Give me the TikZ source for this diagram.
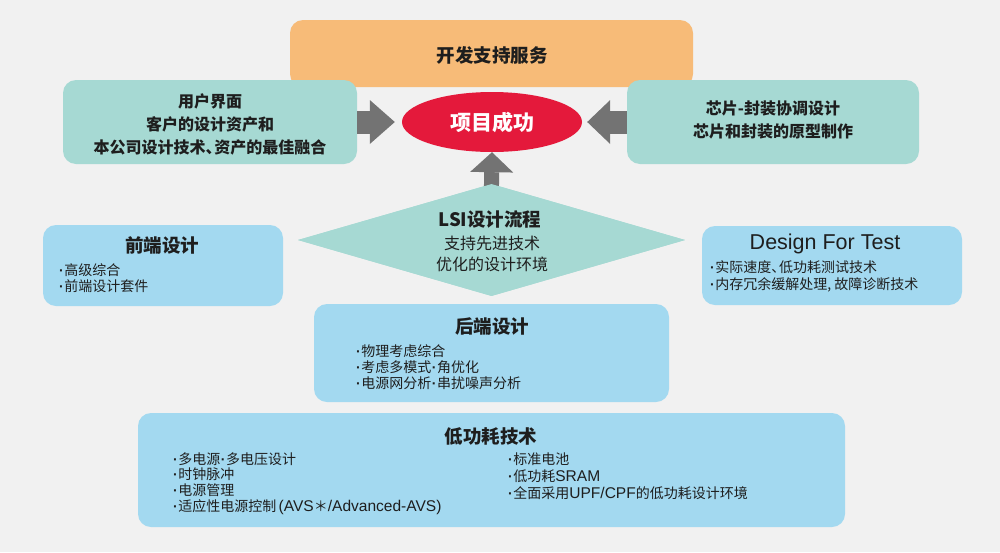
\documentclass[tikz,border=0pt]{standalone}
\usepackage{fontspec}
\setmainfont{Noto Sans CJK SC}
\newfontfamily\latinfont{Liberation Sans}
\newfontfamily\latitem{Liberation Sans}[Scale=1.11]
\usetikzlibrary{shapes.geometric,arrows.meta}
\definecolor{bgc}{HTML}{F1F1F1}
\definecolor{orangec}{HTML}{F7BB78}
\definecolor{tealc}{HTML}{A6D9D3}
\definecolor{bluec}{HTML}{A3D9F0}
\definecolor{redc}{HTML}{E4193B}
\definecolor{arrowc}{HTML}{737373}
\definecolor{textc}{HTML}{1E1E1E}
\newcommand\mybul{{\latinfont\bfseries ·}\kern0.5pt}
\newcommand\mydot{\kern0.5pt{\latinfont\bfseries ·}\kern0.5pt}
\newcommand\mydun{、\kern-0.45em}
\newcommand\lat[1]{{\latitem #1}}
\tikzset{
  box/.style={rectangle, rounded corners=13pt, inner sep=0pt, draw=none},
  orangebox/.style={box, fill=orangec},
  tealbox/.style={box, fill=tealc},
  bluebox/.style={box, fill=bluec},
  txt/.style={inner sep=0pt, text=textc},
  title/.style={txt, font=\fontsize{18.5}{22}\selectfont\bfseries},
  items/.style={txt, align=left, anchor=west},
  bigarrow/.style={draw=arrowc, fill=arrowc},
}
\begin{document}
\begin{tikzpicture}[x=1pt,y=-1pt]
\fill[bgc] (0,0) rectangle (1000,552);
\useasboundingbox (0,0) rectangle (1000,552);

% boxes
\node[orangebox, minimum width=403pt, minimum height=67pt] (svc) at (491.5,53.5) {};
\node[tealbox, minimum width=294pt, minimum height=84pt] (lb) at (210,122) {};
\node[tealbox, minimum width=292pt, minimum height=84pt] (rb) at (773,122) {};
\node[ellipse, fill=redc, inner sep=0pt, minimum width=180pt, minimum height=60pt] (ell) at (492,122) {};
\node[diamond, fill=tealc, inner sep=0pt, minimum width=387pt, minimum height=112pt] (dia) at (491.5,240) {};

% arrows
\draw[bigarrow, line width=23pt, -{Triangle[length=25pt,width=44pt,line width=0pt]}, shorten >=7pt] (lb.east) -- (ell.west);
\draw[bigarrow, line width=23pt, -{Triangle[length=23pt,width=44pt,line width=0pt]}, shorten >=5pt] (rb.west) -- (ell.east);
\draw[bigarrow, line width=15pt, -{Triangle[length=20pt,width=43pt,line width=0pt]}, shorten <=-6pt] (dia.north) -- (ell.south);
% redraw diamond top over shaft
\node[diamond, fill=tealc, inner sep=0pt, minimum width=387pt, minimum height=112pt] (dia2) at (dia.center) {};

\node[bluebox, minimum width=240pt, minimum height=81pt] (fe) at (163,265.5) {};
\node[bluebox, minimum width=260pt, minimum height=79pt] (dft) at (832,265.5) {};
\node[bluebox, minimum width=355pt, minimum height=98pt] (be) at (491.5,353) {};
\node[bluebox, minimum width=707pt, minimum height=114pt] (lp) at (491.5,470) {};

% texts
\node[title] (svct) at (492,55) {开发支持服务};
\node[txt, align=center, font=\fontsize{16}{23}\selectfont\bfseries] (lbt) at (210,124) {用户界面\\客户的设计资产和\\本公司设计技术\mydun 资产的最佳融合};
\node[txt, align=center, font=\fontsize{16}{23}\selectfont\bfseries] (rbt) at (773,119.5) {芯片-封装协调设计\\芯片和封装的原型制作};
\node[inner sep=0pt, text=white, font=\fontsize{21}{24}\selectfont\bfseries] (ellt) at (492,122) {项目成功};

\node[title] (diat) at (490,219) {LSI设计流程};
\node[txt, align=center, font=\fontsize{16}{21}\selectfont] (dias) at (492,253.5) {支持先进技术\\优化的设计环境};

\node[title] (fet) at (162,245) {前端设计};
\node[items, font=\fontsize{14}{16}\selectfont] (fei) at (59,278) {\mybul 高级综合\\\mybul 前端设计套件};

\node[txt, font=\latinfont\fontsize{21.5}{24}\selectfont] (dftt) at (825,244) {Design For Test};
\node[items, font=\fontsize{14}{17}\selectfont] (dfti) at (710,276.5) {\mybul 实际速度\mydun 低功耗测试技术\\\mybul 内存冗余缓解处理, 故障诊断技术};

\node[title] (bet) at (492,326) {后端设计};
\node[items, font=\fontsize{14}{16}\selectfont] (bei) at (356,367) {\mybul 物理考虑综合\\\mybul 考虑多模式\mydot 角优化\\\mybul 电源网分析\mydot 串扰噪声分析};

\node[title] (lpt) at (491,436) {低功耗技术};
\node[items, font=\fontsize{14}{15.7}\selectfont] (lpl) at (173,483.5) {\mybul 多电源\mydot 多电压设计\\\mybul 时钟脉冲\\\mybul 电源管理\\\mybul 适应性电源控制\,\lat{(AVS}＊\lat{/Advanced-AVS)}};
\node[items, font=\fontsize{14}{17}\selectfont] (lpr) at (508,476) {\mybul 标准电池\\\mybul 低功耗\lat{SRAM}\\\mybul 全面采用\lat{UPF/CPF}的低功耗设计环境};
\end{tikzpicture}
\end{document}
